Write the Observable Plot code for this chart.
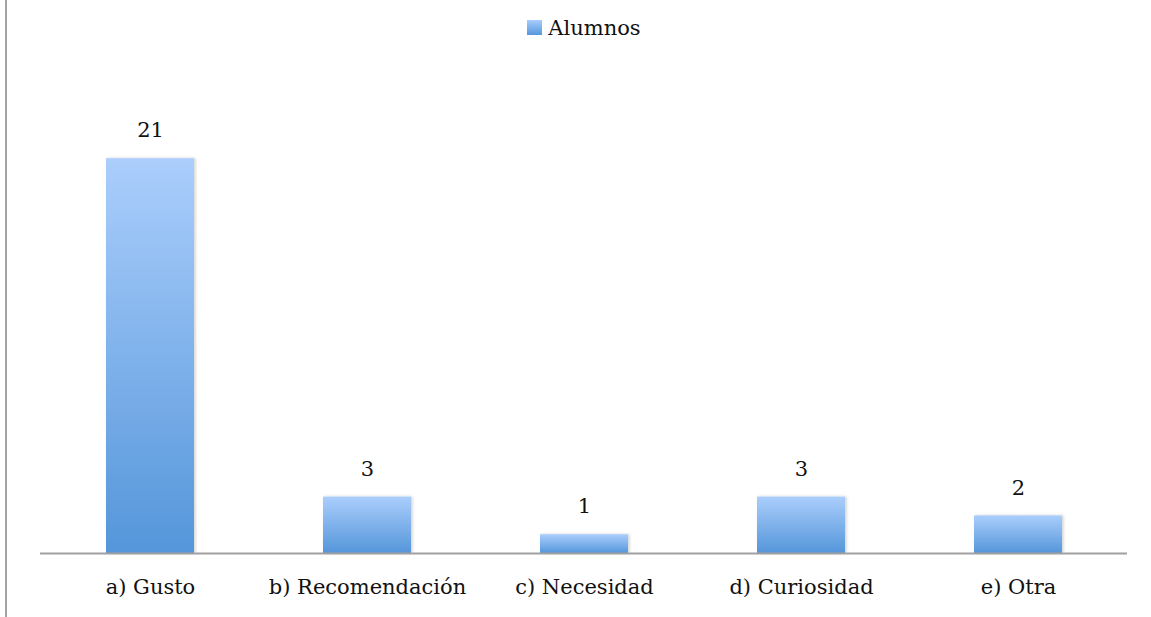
<!DOCTYPE html>
<html>
<head>
<meta charset="utf-8">
<script src="https://cdn.jsdelivr.net/npm/d3@7"></script>
<script src="https://cdn.jsdelivr.net/npm/@observablehq/plot@0.6"></script>
<style>
  html, body { margin: 0; padding: 0; background: #fff; }
  #frame {
    position: relative;
    width: 1151px;
    height: 617px;
    overflow: hidden;
    font-family: "DejaVu Serif", serif;
  }
  #frame::before {
    content: "";
    position: absolute;
    left: 5px; top: 0; bottom: 0;
    width: 2px;
    background: #a3a3a3;
  }
  #legend {
    height: 55px;
    display: flex;
    align-items: center;
    justify-content: center;
    font-size: 21px;
    color: #111;
    padding-left: 17px;
    box-sizing: border-box;
  }
  #legend .swatch {
    width: 15px; height: 15px;
    margin-right: 6px;
    background: linear-gradient(#a9cdfb, #5597dc);
  }
</style>
</head>
<body>
<div id="frame">
  <div id="legend"><span class="swatch"></span><span>Alumnos</span></div>
  <div id="chart"></div>
</div>
<script>
// Motivo de elección — number of students per answer
const categories = ["a) Gusto", "b) Recomendación", "c) Necesidad", "d) Curiosidad", "e) Otra"];
const alumnos = [21, 3, 1, 3, 2];
const seriesName = "Alumnos";

const rows = categories.map((c, i) => ({categoria: c, valor: alumnos[i]}));

const chart = Plot.plot({
  width: 1151,
  height: 562,
  marginLeft: 40,
  marginRight: 24,
  marginTop: 28,
  marginBottom: 64,
  style: {fontFamily: "DejaVu Serif, serif", fontSize: "21px", color: "#111", background: "transparent"},
  x: {domain: categories, paddingInner: 0.595, paddingOuter: 0.2975, label: null, tickSize: 0, tickPadding: 26},
  y: {domain: [0, 25], axis: null},
  marks: [
    Plot.barY(rows, {x: "categoria", y: "valor", fill: "url(#barGradient)", title: d => `${seriesName}: ${d.valor}`}),
    Plot.ruleY([0], {stroke: "#a0a0a0", strokeWidth: 2}),
    Plot.axisX({fontSize: 21, tickSize: 0, tickPadding: 26, label: null}),
    Plot.text(rows, {x: "categoria", y: "valor", text: d => String(d.valor), dy: -28, fontSize: 21, fill: "#111"})
  ]
});

// vertical gradient shared by every bar (light top, deeper blue at the base)
const svg = d3.select(chart);
const defs = svg.insert("defs", ":first-child");
const grad = defs.append("linearGradient")
  .attr("id", "barGradient")
  .attr("x1", 0).attr("y1", 0).attr("x2", 0).attr("y2", 1);
grad.append("stop").attr("offset", "0%").attr("stop-color", "#abcefc");
grad.append("stop").attr("offset", "100%").attr("stop-color", "#5496da");

const shadow = defs.append("filter").attr("id", "barShadow")
  .attr("x", "-10%").attr("y", "-10%").attr("width", "130%").attr("height", "120%");
shadow.append("feDropShadow").attr("dx", 1.5).attr("dy", 0).attr("stdDeviation", 1.5)
  .attr("flood-color", "#000").attr("flood-opacity", 0.18);
svg.selectAll("g[aria-label='bar'] rect").attr("filter", "url(#barShadow)");

document.getElementById("chart").appendChild(chart);
</script>
</body>
</html>
